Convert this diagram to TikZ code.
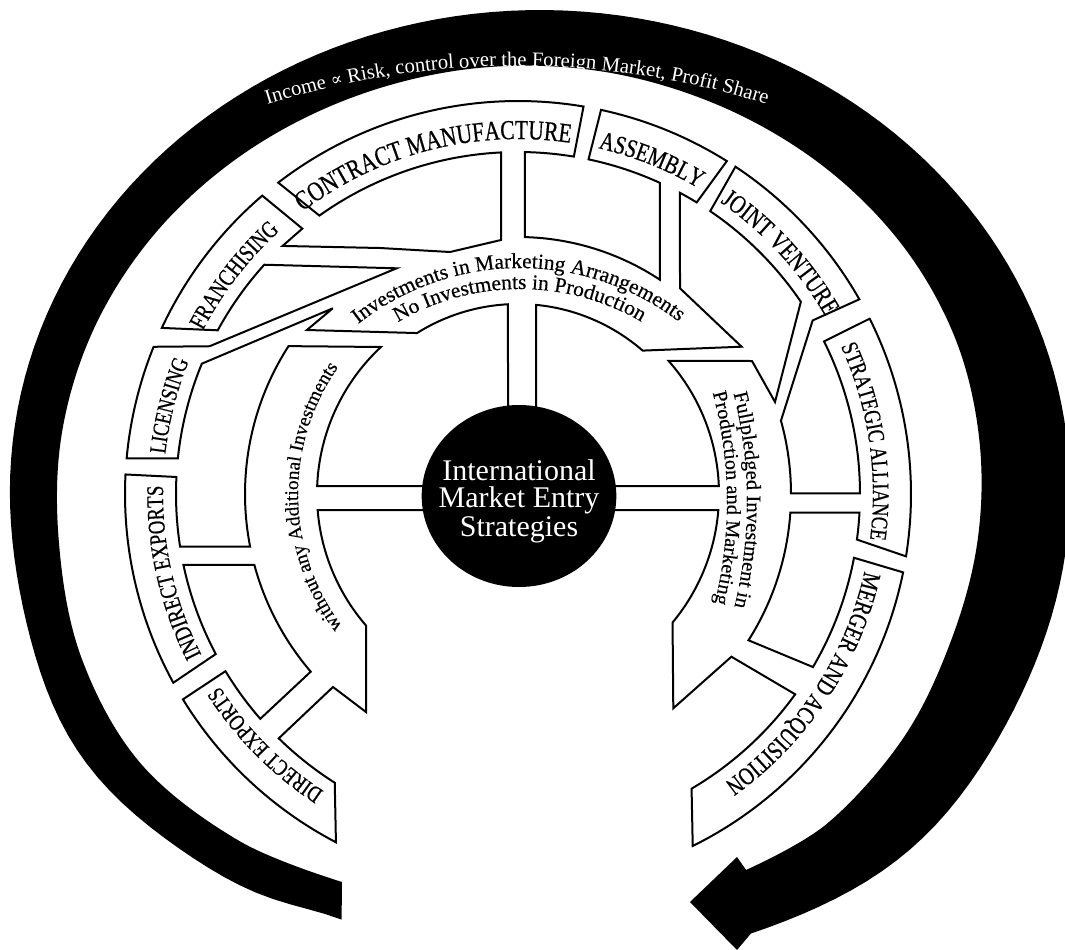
\documentclass[tikz,border=0pt]{standalone}
\usepackage{fontspec}
\setmainfont{Liberation Serif}
\newfontfamily\labfont{Liberation Serif}[FakeStretch=0.78, FakeBold=0.6]
\newfontfamily\midfont{Liberation Serif}[FakeBold=0.4]
\newfontfamily\symfont{DejaVu Serif}
\usetikzlibrary{calc,decorations.text,shapes.geometric}
\newcommand\boxlab[1]{\labfont\fontsize{#1}{#1}\selectfont}
\newcommand\midlab[1]{\midfont\fontsize{#1}{#1}\selectfont}
\newcommand\bandlab[1]{\rmfamily\fontsize{#1}{#1}\selectfont}
\tikzset{
  pipe/.style={line width=1.5pt, line join=miter, miter limit=6},
  curvedtext/.style={decorate, decoration={text along path, text align=center, text={#1}}},
  coretext/.style={text=white, font=\fontsize{22.5}{24}\selectfont, inner sep=0pt}
}
\begin{document}
\begin{tikzpicture}[x=0.75pt,y=-0.75pt,
  declare function={sf(\a)=1+0.028*exp(-min(20,((\a-147)/15)*((\a-147)/15)))+0.024*exp(-min(20,((\a-408)/16)*((\a-408)/16)))-0.03*exp(-min(20,((\a-112.7)/8)*((\a-112.7)/8)));}]
\useasboundingbox (0,0) rectangle (1065,950);
\fill[white] (0,0) rectangle (1065,950);
\coordinate (C) at (518,494);

% black tapered arrow band (runs clockwise from bottom left to the arrow head at bottom right)
\fill[black] plot[domain=112.7:426.7, samples=160, variable=\t] ({540+530*sf(\t)*cos(\t)},{490+480*sf(\t)*sin(\t)})
  -- (737,950) -- (690,902) -- (737,857)
  -- plot[smooth,tension=0.6] coordinates {(746.1,869.9) (827.1,823.6) (903.4,737.9) (950.9,641) (977.5,541.1) (979.2,438.7) (954.8,337.3) (901,243.4) (820.5,164.1) (718.5,105.2) (601.6,71.4) (477.9,68) (357.5,95.5) (248.8,150.2) (159.4,228.4) (95.6,325.1) (61.8,433.6) (59.3,546.8) (82.3,660.1) (141.6,764.5) (239.9,841.3) (342,882)} -- cycle;

\path[curvedtext={|\color{white}\bandlab{15.5}|Income |\color{white}\symfont\fontsize{13}{13}\selectfont|∝|\color{white}\bandlab{15.5}| Risk, control over the Foreign Market, Profit Share}]
  plot[domain=245:295, samples=120, variable=\t] ({517+832*cos(\t)},{898+832*sin(\t)});

% left part: arrow "without any Additional Investments", direct and indirect exports
\draw[pipe] (430,510) -- ($(C)+(175.43:201)$) arc[start angle=175.43, end angle=139.1, radius=201]
  -- (366,712) -- (333,687)
  -- ($(C)+(134.4:342)$) arc[start angle=134.4, end angle=122.4, radius=342]
  -- ($(C)+(117.6:393)$) arc[start angle=117.6, end angle=148.5, radius=393]
  -- ($(C)+(148.8:342)$) arc[start angle=148.8, end angle=138.9, radius=342]
  -- ($(C)+(139.4:273)$) arc[start angle=139.4, end angle=164.93, radius=273]
  -- ($(C)+(168.02:342)$) arc[start angle=168.02, end angle=152.1, radius=342]
  -- ($(C)+(151.3:393)$) arc[start angle=151.3, end angle=182.85, radius=393]
  -- ($(C)+(182.85:342)$) arc[start angle=182.85, end angle=171.14, radius=342]
  -- ($(C)+(168.87:273)$) arc[start angle=168.87, end angle=212.8, radius=273]
  -- ($(C)+(227:201)$) arc[start angle=227, end angle=182.28, radius=201]
  -- (430,486);

% top part: investments band, licensing, franchising, contract manufacture, assembly
\draw[pipe] (508,420) -- ($(C)+(266.98:190)$) arc[start angle=266.98, end angle=237.9, radius=190]
  -- (306.9,330) -- (332.8,308.3)
  -- ($(C)+(202.4:342)$) arc[start angle=202.4, end angle=186, radius=342]
  -- ($(C)+(185.2:393)$) arc[start angle=185.2, end angle=202, radius=393]
  -- ($(C)+(205.6:342)$) -- (396.6,268.3)
  -- ($(C)+(222.1:342)$) arc[start angle=222.1, end angle=208.6, radius=342]
  -- ($(C)+(205:393)$) arc[start angle=205, end angle=229.4, radius=393]
  -- ($(C)+(230.9:342)$) -- ($(C)+(226.5:342)$)
  -- (380,248) -- (450,252) -- (501,240)
  -- ($(C)+(267.15:342)$) arc[start angle=267.15, end angle=234.5, radius=342]
  -- ($(C)+(232.4:393)$) arc[start angle=232.4, end angle=279.6, radius=393]
  -- ($(C)+(279.4:342)$) arc[start angle=279.4, end angle=271.17, radius=342]
  -- ($(C)+(271.56:257)$) arc[start angle=271.56, end angle=303.54, radius=257]
  -- ($(C)+(294.53:342)$) arc[start angle=294.53, end angle=281.9, radius=342]
  -- ($(C)+(282.2:393)$) arc[start angle=282.2, end angle=302.1, radius=393]
  -- ($(C)+(301.5:342)$) arc[start angle=301.5, end angle=298.27, radius=342]
  -- (680,288.3) -- (741.6,346.7)
  -- ($(C)+(311:190)$) arc[start angle=311, end angle=275.44, radius=190]
  -- (536,420);

% right part: arrow "Fullpledged", joint venture, strategic alliance, merger
\draw[pipe] (608,486) -- ($(C)+(357.72:201)$) arc[start angle=357.72, end angle=318.5, radius=201]
  -- (752,361) -- ($(C)+(340.3:273)$)
  -- ($(C)+(325.8:342)$) arc[start angle=325.8, end angle=304.2, radius=342]
  -- ($(C)+(303.6:393)$) arc[start angle=303.6, end angle=330.3, radius=393]
  -- ($(C)+(329.5:342)$) -- ($(C)+(344.42:273)$) arc[start angle=344.42, end angle=359.85, radius=273]
  -- ($(C)+(359.9:342)$) arc[start angle=359.9, end angle=333.5, radius=342]
  -- ($(C)+(333.5:393)$) arc[start angle=333.5, end angle=369.13, radius=393]
  -- ($(C)+(367.66:342)$) arc[start angle=367.66, end angle=363.135, radius=342]
  -- ($(C)+(363.93:273)$) arc[start angle=363.93, end angle=392.4, radius=273]
  -- ($(C)+(390.4:342)$) arc[start angle=390.4, end angle=370.75, radius=342]
  -- ($(C)+(371.5:393)$) arc[start angle=371.5, end angle=423.6, radius=393]
  -- ($(C)+(419.5:342)$) arc[start angle=419.5, end angle=395.85, radius=342]
  -- (731.4,656.7) -- (673.3,708.3)
  -- ($(C)+(39.74:201)$) arc[start angle=39.74, end angle=4.57, radius=201]
  -- (608,510);

% outer box labels (text runs clockwise, tops outward)
\path[curvedtext={|\boxlab{17.3}|DIRECT EXPORTS}] plot[domain=105.2:165.2, samples=90, variable=\t] ({518+355*cos(\t)},{494+355*sin(\t)});
\path[curvedtext={|\boxlab{18}|INDIRECT EXPORTS}] plot[domain=137.2:197.2, samples=90, variable=\t] ({518+355*cos(\t)},{494+355*sin(\t)});
\path[curvedtext={|\boxlab{17.5}|LICENSING}] plot[domain=164.2:224.2, samples=90, variable=\t] ({518+355*cos(\t)},{494+355*sin(\t)});
\path[curvedtext={|\boxlab{18.1}|FRANCHISING}] plot[domain=187.6:247.6, samples=90, variable=\t] ({518+355*cos(\t)},{494+355*sin(\t)});
\path[curvedtext={|\boxlab{20.6}|CONTRACT MANUFACTURE}] plot[domain=225.6:285.6, samples=90, variable=\t] ({518+355*cos(\t)},{494+355*sin(\t)});
\path[curvedtext={|\boxlab{19.5}|ASSEMBLY}] plot[domain=261.8:321.8, samples=90, variable=\t] ({518+355*cos(\t)},{494+355*sin(\t)});
\path[curvedtext={|\boxlab{19.6}|JOINT VENTURE}] plot[domain=287.4:347.4, samples=90, variable=\t] ({518+355*cos(\t)},{494+355*sin(\t)});
\path[curvedtext={|\boxlab{17.7}|STRATEGIC ALLIANCE}] plot[domain=321.4:381.4, samples=90, variable=\t] ({518+355*cos(\t)},{494+355*sin(\t)});
\path[curvedtext={|\boxlab{18.8}|MERGER AND ACQUISITION}] plot[domain=363.5:423.5, samples=90, variable=\t] ({518+355*cos(\t)},{494+355*sin(\t)});

% middle arrow labels
\path[curvedtext={|\midlab{14.5}|without any Additional Investments}] plot[domain=134:224.2, samples=120, variable=\t] ({518+220*cos(\t)},{494+220*sin(\t)});
\path[curvedtext={|\midlab{16}|Investments in Marketing Arrangements}] plot[domain=225:314.2, samples=120, variable=\t] ({520+262*cos(\t)},{530+262*sin(\t)});
\path[curvedtext={|\midlab{16}|No Investments in Production}] plot[domain=225:314.8, samples=120, variable=\t] ({520+241*cos(\t)},{530+241*sin(\t)});
\path[curvedtext={|\midlab{15.4}|Fullpledged Investment in}] plot[domain=335:384.5, samples=120, variable=\t] ({303+444*cos(\t)},{502+444*sin(\t)});
\path[curvedtext={|\midlab{15.2}|Production and Marketing}] plot[domain=334.5:384.4, samples=120, variable=\t] ({303+424*cos(\t)},{502+424*sin(\t)});

% centre
\node[ellipse, fill=black, minimum width=146pt, minimum height=136.5pt, inner sep=0pt] (core) at (519,496) {};
\node[coretext, anchor=base] (ct1) at (519,480) {International};
\node[coretext, anchor=base] (ct2) at (519,507) {Market Entry};
\node[coretext, anchor=base] (ct3) at (519,536) {Strategies};
\end{tikzpicture}
\end{document}
